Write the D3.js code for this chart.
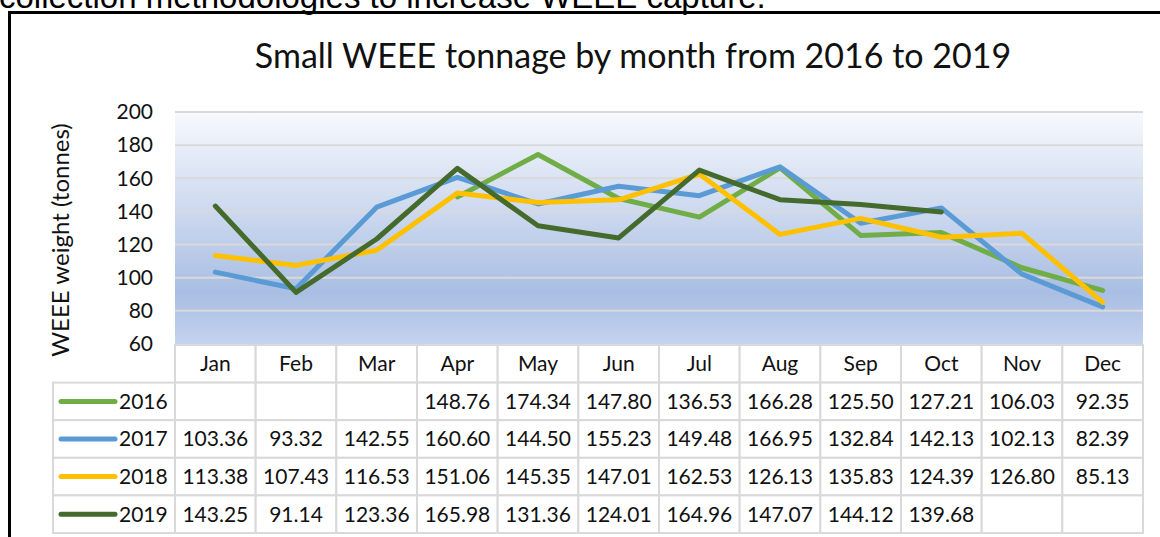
<!DOCTYPE html>
<html>
<head>
<meta charset="utf-8">
<script src="https://cdn.jsdelivr.net/npm/d3@7"></script>
<style>
  body { margin: 0; background: #fff; }
  svg { display: block; }
  text { font-family: Lato, "Open Sans", sans-serif; fill: #111; }
</style>
</head>
<body>
<div class="chart"></div>
<script>
// data
var months = ["Jan","Feb","Mar","Apr","May","Jun","Jul","Aug","Sep","Oct","Nov","Dec"];
var years = ["2016","2017","2018","2019"];
var colors = ["#70ad47","#5b9bd5","#ffc000","#446a2c"];
var v2016 = [null,null,null,148.76,174.34,147.80,136.53,166.28,125.50,127.21,106.03,92.35];
var v2017 = [103.36,93.32,142.55,160.60,144.50,155.23,149.48,166.95,132.84,142.13,102.13,82.39];
var v2018 = [113.38,107.43,116.53,151.06,145.35,147.01,162.53,126.13,135.83,124.39,126.80,85.13];
var v2019 = [143.25,91.14,123.36,165.98,131.36,124.01,164.96,147.07,144.12,139.68,null,null];
var yTicks = [60,80,100,120,140,160,180,200];

var series = years.map((yr, i) => ({
  year: yr,
  color: colors[i],
  values: [v2016, v2017, v2018, v2019][i]
}));

var width = 1160, height = 537;

var svg = d3.select(".chart").append("svg")
    .attr("width", width)
    .attr("height", height);

// text above the frame (cut by page top, as in the source page)
svg.append("text")
  .attr("x", -1)
  .attr("y", 8)
  .style("font-family", "'Liberation Sans', Arial, sans-serif")
  .style("font-size", "33px")
  .style("fill", "#000")
  .text("collection methodologies to increase WEEE capture.");

// frame
svg.append("rect")
  .attr("x", 9.5)
  .attr("y", 12.5)
  .attr("width", 1200)
  .attr("height", 600)
  .style("fill", "none")
  .style("stroke", "#000")
  .style("stroke-width", 3);

// scales
var x = d3.scaleBand()
    .domain(months)
    .range([175, 1143]);

var y = d3.scaleLinear()
    .domain([60, 200])
    .range([344, 112]);

var rows = d3.scaleBand()
    .domain(["head"].concat(years))
    .range([345, 533]);

// plot background
var grad = svg.append("defs").append("linearGradient")
    .attr("id", "bg")
    .attr("x1", 0).attr("y1", 0)
    .attr("x2", 0).attr("y2", 1);
grad.append("stop").attr("offset", "0%").attr("stop-color", "#f7f9fd");
grad.append("stop").attr("offset", "78%").attr("stop-color", "#a9bee3");
grad.append("stop").attr("offset", "100%").attr("stop-color", "#c4d3ee");

svg.append("rect")
  .attr("x", x.range()[0])
  .attr("y", y(200))
  .attr("width", x.range()[1] - x.range()[0])
  .attr("height", y(60) - y(200))
  .style("fill", "url(#bg)");

// gridlines
svg.append("g")
  .attr("class", "grid")
  .selectAll("line")
  .data(yTicks.filter(d => d > 60))
  .join("line")
    .attr("x1", x.range()[0])
    .attr("x2", x.range()[1])
    .attr("y1", d => y(d))
    .attr("y2", d => y(d))
    .style("stroke", "#d9d9d9")
    .style("stroke-width", 2);

// y axis
var yAxis = svg.append("g")
  .attr("class", "y-axis")
  .attr("transform", "translate(175,0)")
  .call(d3.axisLeft(y).tickValues(yTicks).tickSize(0).tickPadding(22));
yAxis.select(".domain").remove();
yAxis.selectAll("text")
  .style("font-family", "Lato, sans-serif")
  .style("font-size", "21px")
  .style("fill", "#111");

svg.append("text")
  .attr("transform", "translate(69,240) rotate(-90)")
  .attr("text-anchor", "middle")
  .style("font-size", "24px")
  .text("WEEE weight (tonnes)");

// lines
var line = d3.line()
    .defined(d => d != null)
    .x((d, i) => x(months[i]) + x.bandwidth() / 2)
    .y(d => y(d));

svg.append("g")
  .selectAll("path")
  .data(series)
  .join("path")
    .attr("d", d => line(d.values))
    .style("fill", "none")
    .style("stroke", d => d.color)
    .style("stroke-width", 5)
    .style("stroke-linejoin", "round")
    .style("stroke-linecap", "round");

// title
svg.append("text")
  .attr("x", 633)
  .attr("y", 68)
  .attr("text-anchor", "middle")
  .style("font-size", "34px")
  .text("Small WEEE tonnage by month from 2016 to 2019");

// data table
var tbl = svg.append("g").attr("class", "table");
var bc = "#d9d9d9";

// header cells
tbl.selectAll(".head-cell")
  .data(months)
  .join("rect")
    .attr("class", "head-cell")
    .attr("x", d => x(d))
    .attr("y", rows("head"))
    .attr("width", x.bandwidth())
    .attr("height", rows.bandwidth())
    .style("fill", "#fff")
    .style("stroke", bc)
    .style("stroke-width", 2);

tbl.selectAll(".head-text")
  .data(months)
  .join("text")
    .attr("class", "head-text")
    .attr("x", d => x(d) + x.bandwidth() / 2)
    .attr("y", rows("head") + rows.bandwidth() / 2)
    .attr("dy", "0.35em")
    .attr("text-anchor", "middle")
    .style("font-size", "21px")
    .text(d => d);

var rowG = tbl.selectAll(".row")
  .data(series)
  .join("g")
    .attr("class", "row")
    .attr("transform", d => "translate(0," + rows(d.year) + ")");

rowG.append("rect")
  .attr("x", 53)
  .attr("y", 0)
  .attr("width", x.range()[0] - 53)
  .attr("height", rows.bandwidth())
  .style("fill", "#fff")
  .style("stroke", bc)
  .style("stroke-width", 2);

rowG.append("line")
  .attr("x1", 61)
  .attr("x2", 115)
  .attr("y1", rows.bandwidth() / 2)
  .attr("y2", rows.bandwidth() / 2)
  .style("stroke", d => d.color)
  .style("stroke-width", 5)
  .style("stroke-linecap", "round");

rowG.append("text")
  .attr("x", 119)
  .attr("y", rows.bandwidth() / 2)
  .attr("dy", "0.35em")
  .style("font-size", "21px")
  .text(d => d.year);

rowG.selectAll(".cell")
  .data(d => d.values.map((v, i) => ({month: months[i], v: v})))
  .join("rect")
    .attr("class", "cell")
    .attr("x", d => x(d.month))
    .attr("y", 0)
    .attr("width", x.bandwidth())
    .attr("height", rows.bandwidth())
    .style("fill", "#fff")
    .style("stroke", bc)
    .style("stroke-width", 2);

rowG.selectAll(".val")
  .data(d => d.values.map((v, i) => ({month: months[i], v: v})).filter(d => d.v != null))
  .join("text")
    .attr("class", "val")
    .attr("x", d => x(d.month) + x.bandwidth() / 2)
    .attr("y", rows.bandwidth() / 2)
    .attr("dy", "0.35em")
    .attr("text-anchor", "middle")
    .style("font-size", "21px")
    .text(d => d3.format(".2f")(d.v));
</script>
</body>
</html>
